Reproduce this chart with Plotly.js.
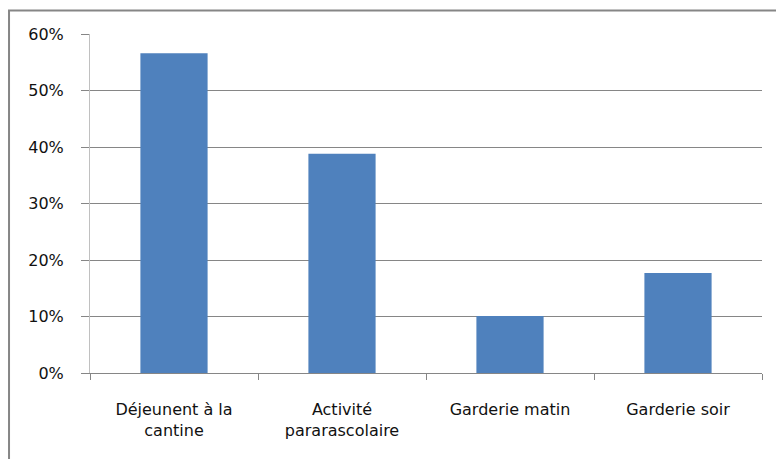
<!DOCTYPE html>
<html>
<head>
<meta charset="utf-8">
<script src="https://cdn.plot.ly/plotly-3.0.1.min.js"></script>
<style>html,body{margin:0;padding:0;background:#fff;}#chart{width:776px;height:459px;}</style>
</head>
<body>
<div id="chart"></div>
<script>
const categories = ["Déjeunent à la<br>cantine", "Activité<br>pararascolaire", "Garderie matin", "Garderie soir"];
const values = [0.566, 0.388, 0.101, 0.177];
const yTickVals = [0, 0.1, 0.2, 0.3, 0.4, 0.5, 0.6];
const yTickText = ["0%", "10%", "20%", "30%", "40%", "50%", "60%"];

const trace = {
  type: "bar",
  x: categories,
  y: values,
  marker: {color: "#4f81bd"},
  hoverinfo: "skip"
};

const fontFam = "DejaVu Sans, sans-serif";

const layout = {
  width: 776,
  height: 459,
  margin: {l: 90, r: 14, t: 34, b: 86},
  paper_bgcolor: "#ffffff",
  plot_bgcolor: "#ffffff",
  showlegend: false,
  bargap: 0.6,
  font: {family: fontFam, size: 16, color: "#111"},
  xaxis: {
    type: "category",
    showline: true,
    linecolor: "#868686",
    linewidth: 1,
    ticks: "outside",
    tickson: "boundaries",
    ticklen: 6,
    tickcolor: "#868686",
    showgrid: false,
    ticklabelstandoff: 22,
    tickfont: {family: fontFam, size: 16, color: "#111"}
  },
  yaxis: {
    range: [0, 0.6],
    tickvals: yTickVals,
    ticktext: yTickText,
    showgrid: true,
    gridcolor: "#868686",
    gridwidth: 1,
    zeroline: false,
    showline: true,
    linecolor: "#c0c0c0",
    ticks: "outside",
    ticklen: 8,
    tickcolor: "#868686",
    ticklabelstandoff: 14,
    tickfont: {family: fontFam, size: 16, color: "#111"}
  },
  shapes: [{
    type: "rect",
    xref: "paper", yref: "paper",
    x0: -0.1205, x1: 1.1, y0: -0.4, y1: 1.0693,
    line: {color: "#868686", width: 2},
    fillcolor: "rgba(0,0,0,0)",
    layer: "below"
  }]
};

Plotly.newPlot("chart", [trace], layout, {displayModeBar: false, staticPlot: true});
</script>
</body>
</html>
